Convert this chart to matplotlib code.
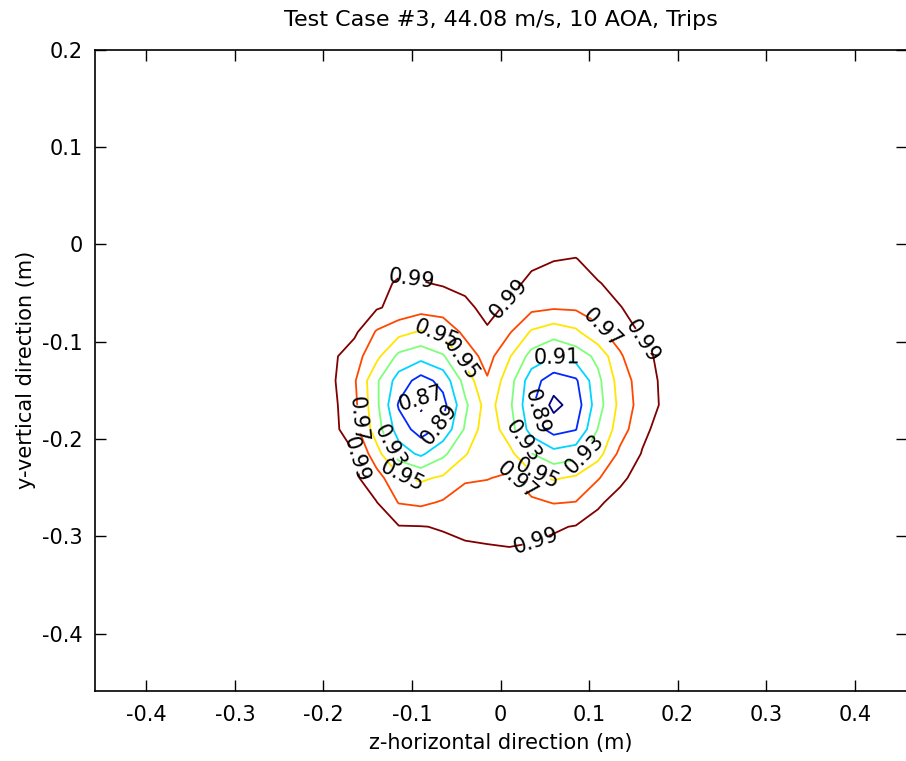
import matplotlib
matplotlib.use("Agg")
import matplotlib.pyplot as plt

# wake survey grid positions (m)
z_pos = [-0.265, -0.24, -0.215, -0.19, -0.165, -0.14, -0.115, -0.09, -0.065, -0.04, -0.015,
         0.01, 0.035, 0.06, 0.085, 0.11, 0.135, 0.16, 0.185, 0.21, 0.235]
y_pos = [0.01, -0.015, -0.04, -0.065, -0.09, -0.115, -0.14, -0.165, -0.19, -0.215, -0.24,
         -0.265, -0.29, -0.315, -0.34, -0.365]

# normalised total pressure, one row per y position
p_ratio = [
    [1.000] * 21,
    [1.000, 1.000, 1.000, 1.000, 1.000, 1.000, 0.997, 0.997, 0.999, 1.000, 1.000, 0.997, 0.994, 0.991, 0.9895, 0.996, 0.999, 1.000, 1.000, 1.000, 1.000],
    [1.000, 1.000, 1.000, 1.000, 1.000, 0.995, 0.988, 0.989, 0.9915, 0.9945, 0.997, 0.995, 0.986, 0.9806, 0.9827, 0.9892, 0.9944, 0.999, 1.000, 1.000, 1.000],
    [1.000, 1.000, 1.000, 1.000, 0.9946, 0.992, 0.984, 0.978, 0.980, 0.986, 0.995, 0.987, 0.975, 0.972, 0.973, 0.9767, 0.9895, 0.995, 1.000, 1.000, 1.000],
    [1.000, 1.000, 1.000, 0.997, 0.994, 0.968, 0.9566, 0.948, 0.9553, 0.975, 0.988, 0.972, 0.9476, 0.9385, 0.9462, 0.966, 0.978, 0.993, 0.998, 1.000, 1.000],
    [1.000, 1.000, 1.000, 0.9939, 0.9787, 0.9553, 0.925, 0.9167, 0.9277, 0.958, 0.978, 0.9516, 0.9226, 0.9105, 0.9188, 0.935, 0.9678, 0.9844, 0.9956, 1.000, 1.000],
    [1.000, 1.000, 1.000, 0.993, 0.9723, 0.933, 0.9012, 0.8822, 0.8964, 0.938, 0.968, 0.9387, 0.8981, 0.8798, 0.887, 0.925, 0.9589, 0.9803, 0.9942, 1.000, 1.000],
    [1.000, 1.000, 1.000, 0.995, 0.975, 0.9344, 0.8878, 0.866, 0.8833, 0.9259, 0.9589, 0.9344, 0.893, 0.864, 0.879, 0.9214, 0.9557, 0.9792, 0.9936, 1.000, 1.000],
    [1.000, 1.000, 1.000, 0.996, 0.977, 0.9394, 0.9003, 0.8815, 0.8955, 0.9323, 0.9626, 0.9397, 0.9012, 0.8822, 0.889, 0.9307, 0.960, 0.986, 0.997, 1.000, 1.000],
    [1.000, 1.000, 1.000, 0.997, 0.9905, 0.958, 0.920, 0.906, 0.9255, 0.9482, 0.966, 0.9553, 0.9305, 0.9167, 0.922, 0.942, 0.975, 0.991, 0.996, 1.000, 1.000],
    [1.000, 1.000, 1.000, 0.9966, 0.9935, 0.978, 0.9543, 0.9468, 0.9529, 0.9675, 0.969, 0.974, 0.9566, 0.948, 0.953, 0.9683, 0.987, 0.996, 0.999, 1.000, 1.000],
    [1.000, 1.000, 1.000, 1.000, 0.9939, 0.9905, 0.969, 0.966, 0.972, 0.979, 0.982, 0.980, 0.974, 0.969, 0.9705, 0.988, 0.995, 0.997, 1.000, 1.000, 1.000],
    [1.000, 1.000, 1.000, 1.000, 0.999, 0.9943, 0.991, 0.9905, 0.989, 0.986, 0.985, 0.985, 0.986, 0.988, 0.991, 0.995, 0.998, 1.000, 1.000, 1.000, 1.000],
    [1.000, 1.000, 1.000, 1.000, 1.000, 1.000, 0.998, 0.996, 0.994, 0.993, 0.992, 0.991, 0.992, 0.995, 0.998, 1.000, 1.000, 1.000, 1.000, 1.000, 1.000],
    [1.000] * 21,
    [1.000] * 21,
]

levels = [0.87, 0.89, 0.91, 0.93, 0.95, 0.97, 0.99]
x_ticks = [-0.4, -0.3, -0.2, -0.1, 0, 0.1, 0.2, 0.3, 0.4]
y_ticks = [-0.4, -0.3, -0.2, -0.1, 0, 0.1, 0.2]

# where the contour labels sit (roughly as clabel put them in the original)
label_spots = [(-0.10, -0.035), (-0.075, -0.10), (-0.04, -0.115), (0.005, -0.052),
               (0.065, -0.11), (0.11, -0.09), (0.16, -0.10), (0.10, -0.22),
               (0.04, -0.24), (0.01, -0.25), (0.04, -0.305), (-0.165, -0.18),
               (-0.185, -0.225), (-0.13, -0.21), (-0.11, -0.235), (-0.085, -0.15),
               (-0.075, -0.18), (0.045, -0.17), (0.03, -0.20)]

plt.rcParams["font.family"] = "DejaVu Sans"
plt.rcParams["font.size"] = 15
plt.rcParams["axes.unicode_minus"] = False

fig = plt.figure(figsize=(9.06, 7.61), dpi=100)
ax = fig.add_axes([95 / 906, 1 - 691 / 761, 812 / 906, 641.5 / 761])

cs = ax.contour(z_pos, y_pos, p_ratio, levels=levels, cmap="jet", linewidths=1.3)
ax.clabel(cs, fmt="%.2f", fontsize=15, colors="k", inline=True, inline_spacing=2,
          manual=label_spots)

ax.set_xlim(-0.458, 0.459)
ax.set_ylim(-0.4587, 0.2)
ax.set_xticks(x_ticks)
ax.set_yticks(y_ticks)
ax.set_xticklabels(["%g" % v for v in x_ticks])
ax.set_yticklabels(["%g" % v for v in y_ticks])
ax.tick_params(direction="in", length=8, width=1, top=True, right=True)
ax.tick_params(axis="y", pad=9)
ax.tick_params(axis="x", pad=10)
for s in ax.spines.values():
    s.set_linewidth(1.2)

ax.set_title("Test Case #3, 44.08 m/s, 10 AOA, Trips", fontsize=16, pad=17)
ax.set_xlabel("z-horizontal direction (m)", labelpad=6)
ax.set_ylabel("y-vertical direction (m)", labelpad=4)

fig.savefig("out.png", dpi=100)
